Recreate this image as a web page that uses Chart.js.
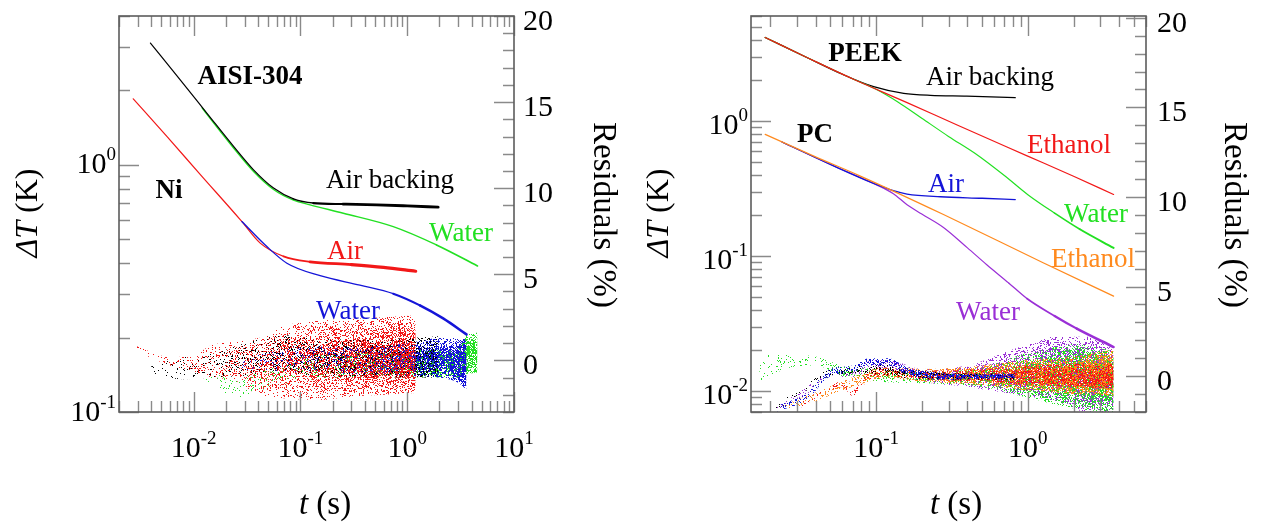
<!DOCTYPE html>
<html>
<head>
<meta charset="utf-8">
<title>Transient temperature rise and residuals</title>
<script src="https://cdn.jsdelivr.net/npm/chart.js@4.4.1/dist/chart.umd.min.js"></script>
<style>
  html, body { margin: 0; padding: 0; background: #ffffff; }
  #wrap { position: relative; width: 1263px; height: 527px; overflow: hidden; }
  #wrap canvas { position: absolute; top: 0; }
  #metals { left: 0; }
  #polymers { left: 631px; }
</style>
</head>
<body>
<div id="wrap">
  <canvas id="metals" width="631" height="527"></canvas>
  <canvas id="polymers" width="632" height="527"></canvas>
</div>
<script>
// ---------- left panel: AISI-304 and Ni (t in s, dT in K) ----------
const aisiAirT = [0.00394, 0.00752, 0.01334, 0.02366, 0.0364, 0.056, 0.0861, 0.132, 0.25, 0.518, 1.0, 1.95];
const aisiAirV = [3.11, 2.20, 1.616, 1.187, 0.954, 0.805, 0.728, 0.700, 0.694, 0.689, 0.682, 0.674];
const aisiWaterT = [0.012, 0.01334, 0.02366, 0.0364, 0.056, 0.0861, 0.123, 0.252, 0.74, 1.88, 4.55];
const aisiWaterV = [1.70, 1.60, 1.17, 0.94, 0.795, 0.72, 0.689, 0.637, 0.562, 0.474, 0.39];
const niAirT = [0.00272, 0.00564, 0.01156, 0.0273, 0.042, 0.0695, 0.123, 0.3, 0.6, 1.2];
const niAirV = [1.85, 1.30, 0.913, 0.60, 0.482, 0.426, 0.405, 0.395, 0.385, 0.371];
const niWaterT = [0.0283, 0.0485, 0.0747, 0.153, 0.361, 0.74, 1.315, 2.17, 3.59];
const niWaterV = [0.59, 0.467, 0.400, 0.356, 0.326, 0.301, 0.270, 0.239, 0.206];

// residual envelopes (%), upper and lower edge of each cloud
const niAirResT = [0.0027, 0.006, 0.01, 0.015, 0.025, 0.04, 0.07, 0.15, 0.3, 0.6, 1.2];
const niAirResHi = [0.9, 0.2, 0.3, 0.9, 1.1, 1.3, 2.0, 2.3, 2.4, 2.5, 2.6];
const niAirResLo = [0.6, -0.3, -0.7, -1.0, -1.2, -2.0, -2.2, -2.3, -2.1, -2.0, -1.9];
const aisiAirResT = [0.004, 0.008, 0.015, 0.03, 0.06, 0.12, 0.4, 1.0, 1.95];
const aisiAirResHi = [-0.2, 0.2, 0.4, 1.0, 1.5, 1.3, 1.2, 1.3, 1.4];
const aisiAirResLo = [-0.9, -1.1, -1.0, -0.9, -0.6, -0.9, -1.0, -1.0, -1.0];
const niWaterResT = [0.028, 0.05, 0.1, 0.3, 1.0, 2.0, 3.0, 3.59];
const niWaterResHi = [0.0, 0.9, 0.8, 0.8, 1.0, 1.3, 1.3, 1.3];
const niWaterResLo = [-0.7, -0.6, -0.7, -0.8, -0.9, -1.0, -1.3, -1.7];
const aisiWaterResT = [0.012, 0.025, 0.05, 0.1, 0.3, 1.0, 3.0, 3.6, 4.55];
const aisiWaterResHi = [-0.6, -1.0, -0.3, 0.2, 0.5, 0.6, 0.7, 1.6, 1.6];
const aisiWaterResLo = [-1.0, -2.2, -1.6, -1.2, -1.0, -1.0, -1.0, -0.8, -0.7];

// ---------- right panel: PEEK and PC ----------
const peekEthT = [0.0186, 0.035, 0.071, 0.16, 0.342, 0.98, 2.0, 3.67];
const peekEthV = [4.16, 2.96, 2.04, 1.37, 0.935, 0.555, 0.39, 0.286];
const peekAirT = [0.0186, 0.035, 0.06, 0.0964, 0.152, 0.228, 0.396, 0.826];
const peekAirV = [4.16, 2.96, 2.22, 1.80, 1.606, 1.55, 1.53, 1.49];
const peekWaterT = [0.0186, 0.035, 0.071, 0.1, 0.14, 0.2, 0.3, 0.45, 0.7, 1.0, 1.5, 2.2, 3.67];
const peekWaterV = [4.16, 2.96, 2.04, 1.72, 1.38, 1.05, 0.77, 0.575, 0.395, 0.285, 0.208, 0.158, 0.115];
const pcEthT = [0.0186, 0.0389, 0.0788, 0.278, 1.27, 3.67];
const pcEthV = [0.797, 0.55, 0.391, 0.203, 0.0889, 0.0505];
const pcAirT = [0.024, 0.05, 0.0964, 0.13, 0.16, 0.265, 0.5, 0.826];
const pcAirV = [0.70, 0.477, 0.345, 0.305, 0.288, 0.275, 0.268, 0.262];
const pcWaterT = [0.024, 0.05, 0.1, 0.13, 0.16, 0.2, 0.278, 0.4, 0.536, 0.75, 0.985, 1.5, 2.1, 3.67];
const pcWaterV = [0.70, 0.477, 0.338, 0.29, 0.24, 0.205, 0.163, 0.115, 0.0863, 0.063, 0.0485, 0.036, 0.029, 0.0212];

const peekAirResT = [0.021, 0.03, 0.05, 0.07, 0.1, 0.2, 0.4, 0.826];
const peekAirResHi = [-1.7, -0.8, 0.4, 0.5, 0.7, 0.3, 0.15, 0.15];
const peekAirResLo = [-2.0, -1.2, 0.0, 0.1, 0.1, -0.2, -0.2, -0.2];
const pcAirResT = [0.022, 0.035, 0.05, 0.07, 0.09, 0.12, 0.16, 0.25, 0.5, 0.826];
const pcAirResHi = [-1.7, -0.9, 0.4, 0.6, 1.0, 1.0, 0.5, 0.2, 0.1, 0.1];
const pcAirResLo = [-2.0, -1.3, 0.0, 0.2, 0.6, 0.6, 0.1, -0.2, -0.15, -0.1];
const peekEthResT = [0.03, 0.045, 0.06, 0.07, 0.09, 0.12, 0.2, 0.5, 1.0, 2.0, 3.67];
const peekEthResHi = [-1.6, -0.7, -0.3, -0.8, 0.3, 0.5, 0.3, 0.4, 0.6, 0.7, 0.7];
const peekEthResLo = [-1.9, -1.0, -0.6, -1.1, -0.2, 0.0, -0.2, -0.3, -0.5, -0.6, -0.7];
const pcEthResT = [0.025, 0.04, 0.06, 0.09, 0.12, 0.2, 0.5, 1.0, 2.0, 3.67];
const pcEthResHi = [-1.6, -0.9, -0.3, 0.3, 0.5, 0.4, 0.6, 0.9, 1.1, 1.5];
const pcEthResLo = [-2.0, -1.4, -0.8, -0.3, -0.1, -0.3, -0.5, -0.8, -1.0, -1.1];
const peekWaterResT = [0.017, 0.025, 0.04, 0.06, 0.1, 0.2, 0.5, 1.0, 2.0, 3.67];
const peekWaterResHi = [1.2, 1.2, 1.1, 0.6, 0.4, 0.2, 0.5, 1.3, 1.8, 1.4];
const peekWaterResLo = [-0.5, 0.4, 0.6, 0.0, -0.3, -0.4, -0.6, -1.2, -1.8, -2.0];
const pcWaterResT = [0.022, 0.035, 0.05, 0.07, 0.09, 0.12, 0.2, 0.4, 0.8, 1.5, 2.5, 3.67];
const pcWaterResHi = [-1.7, -0.6, 0.3, 0.3, 0.9, 0.9, 0.4, 0.6, 1.5, 2.2, 2.2, 1.5];
const pcWaterResLo = [-2.0, -1.0, 0.0, -0.3, 0.4, 0.3, -0.3, -0.6, -1.0, -1.4, -2.0, -2.0];

// tick labels
const metalsXExp = [-2, -1, 0, 1];
const metalsYExp = [-1, 0];
const polymersXExp = [-1, 0];
const polymersYExp = [-2, -1, 0];
const residualTicks = [0, 5, 10, 15, 20];

const FAMILY = '"Liberation Serif", "Times New Roman", serif';
const COLORS = {
  black: '#000000', green: '#22e022', red: '#f21818',
  blue: '#1414d8', orange: '#ff8a1e', purple: '#9a2fd6'
};

function points(t, v) {
  return t.map((x, i) => ({ x, y: v[i] }));
}

function logSteps(min, max) {
  const out = [];
  for (let d = Math.floor(Math.log10(min)); d <= Math.ceil(Math.log10(max)); d++) {
    for (let k = 1; k <= 9; k++) {
      const v = k * Math.pow(10, d);
      if (v >= min * 0.9999 && v <= max * 1.0001) out.push({ v, major: k === 1 });
    }
  }
  return out;
}

// fixed integer hash used only for the dot texture of the residual clouds
function hash01(x, y, s) {
  let h = Math.imul(x + 17, 374761393) ^ Math.imul(y + 31, 668265263) ^ Math.imul(s + 7, 1442695041);
  h = Math.imul(h ^ (h >>> 13), 1274126177);
  h ^= h >>> 16;
  return (h >>> 0) / 4294967296;
}

// dot texture: denser later in time and towards the middle of the cloud
function cloudTexture(chart, b, slot) {
  const a = chart.chartArea;
  const sc = chart.scales || {};
  const sx = sc.x, sr = sc.yR;
  if (!a || !sx || !sr || !(a.right > a.left)) return 'rgba(0,0,0,0)';
  if (b.texture) return b.texture;
  const px = b.t.map(v => sx.getPixelForValue(v));
  const pHi = b.hi.map(v => sr.getPixelForValue(v));
  const pLo = b.lo.map(v => sr.getPixelForValue(v));
  const x0 = px[0], x1 = px[px.length - 1];
  const w = chart.width, h = chart.height;
  const c = document.createElement('canvas');
  c.width = w; c.height = h;
  const g = c.getContext('2d');
  g.fillStyle = b.color;
  let seg = 0;
  for (let x = Math.max(0, Math.floor(x0)); x <= Math.min(w - 1, Math.ceil(x1)); x++) {
    while (seg < px.length - 2 && x > px[seg + 1]) seg++;
    const span = px[seg + 1] - px[seg];
    const k = span > 0 ? Math.max(0, Math.min(1, (x - px[seg]) / span)) : 0;
    const top = pHi[seg] + (pHi[seg + 1] - pHi[seg]) * k - 3;
    const bot = pLo[seg] + (pLo[seg + 1] - pLo[seg]) * k + 3;
    const mid = (top + bot) / 2, half = Math.max(2, (bot - top) / 2);
    const f = Math.max(0, Math.min(1, (x - x0) / (x1 - x0)));
    const d = b.dMin + (b.dMax - b.dMin) * Math.pow(f, b.pow);
    for (let y = Math.max(0, Math.floor(top)); y <= Math.min(h - 1, Math.ceil(bot)); y++) {
      const u = Math.min(1, Math.abs(y - mid) / half);
      if (hash01(x, y, slot) < d * (1 - 0.8 * u * u)) g.fillRect(x, y, 1, 1);
    }
  }
  b.texture = g.createPattern(c, 'no-repeat');
  return b.texture;
}

function powerLabel(ctx, exp, x, y, align) {
  ctx.font = '30px ' + FAMILY;
  const w1 = ctx.measureText('10').width;
  ctx.font = '19px ' + FAMILY;
  const e = String(exp);
  const w2 = ctx.measureText(e).width;
  const total = w1 + w2;
  const x0 = align === 'center' ? x - total / 2 : (align === 'right' ? x - total : x);
  ctx.textAlign = 'left';
  ctx.textBaseline = 'alphabetic';
  ctx.font = '30px ' + FAMILY;
  ctx.fillText('10', x0, y);
  ctx.font = '19px ' + FAMILY;
  ctx.fillText(e, x0 + w1, y - 13);
}

function richText(ctx, parts, x, y, angle) {
  ctx.save();
  ctx.translate(x, y);
  ctx.rotate(angle);
  ctx.textAlign = 'left';
  ctx.textBaseline = 'alphabetic';
  let total = 0;
  parts.forEach(p => { ctx.font = p.font; total += ctx.measureText(p.text).width; });
  let cx = -total / 2;
  parts.forEach(p => {
    ctx.font = p.font;
    ctx.fillText(p.text, cx, 0);
    cx += ctx.measureText(p.text).width;
  });
  ctx.restore();
}

function frameLayer(panel) {
  return {
    id: 'frame_' + panel.id,
    afterDraw(chart) {
      const ctx = chart.ctx;
      const a = chart.chartArea;
      const sx = chart.scales.x, sy = chart.scales.y, sr = chart.scales.yR;
      ctx.save();

      // inward ticks on all four sides
      ctx.strokeStyle = '#8a8a8a';
      ctx.lineWidth = 1.4;
      ctx.beginPath();
      logSteps(panel.xMin, panel.xMax).forEach(s => {
        const px = Math.round(sx.getPixelForValue(s.v)) + 0.5;
        const len = s.major ? 20 : 11;
        ctx.moveTo(px, a.bottom); ctx.lineTo(px, a.bottom - len);
        ctx.moveTo(px, a.top); ctx.lineTo(px, a.top + len);
      });
      logSteps(panel.yMin, panel.yMax).forEach(s => {
        const py = Math.round(sy.getPixelForValue(s.v)) + 0.5;
        ctx.moveTo(a.left, py); ctx.lineTo(a.left + (s.major ? 20 : 11), py);
      });
      for (let r = Math.ceil(panel.rMin); r <= Math.floor(panel.rMax); r++) {
        const py = Math.round(sr.getPixelForValue(r)) + 0.5;
        ctx.moveTo(a.right, py); ctx.lineTo(a.right - (r % 5 === 0 ? 20 : 11), py);
      }
      ctx.stroke();

      ctx.strokeStyle = '#5c5c5c';
      ctx.lineWidth = 1.6;
      ctx.strokeRect(a.left, a.top, a.right - a.left, a.bottom - a.top);

      // tick labels
      ctx.fillStyle = '#000000';
      panel.xExp.forEach(e => powerLabel(ctx, e, sx.getPixelForValue(Math.pow(10, e)), 457, 'center'));
      panel.yExp.forEach(e => powerLabel(ctx, e, a.left - panel.yLabelGap,
        sy.getPixelForValue(Math.pow(10, e)) + panel.yLabelDrop, 'right'));
      ctx.font = '30px ' + FAMILY;
      ctx.textAlign = 'left';
      residualTicks.forEach(r => ctx.fillText(String(r), a.right + panel.rLabelGap, sr.getPixelForValue(r) + 14));

      // axis titles
      richText(ctx, [
        { text: 't', font: 'italic 33px ' + FAMILY },
        { text: ' (s)', font: '33px ' + FAMILY }
      ], 325, 514, 0);
      richText(ctx, [
        { text: 'ΔT', font: 'italic 32px ' + FAMILY },
        { text: ' (K)', font: '32px ' + FAMILY }
      ], 37, 213, -Math.PI / 2);
      richText(ctx, [{ text: 'Residuals (%)', font: '33px ' + FAMILY }], 594, 215, Math.PI / 2);

      // in-plot notes
      ctx.textAlign = 'center';
      panel.notes.forEach(n => {
        ctx.font = (n.bold ? 'bold ' : '') + '27px ' + FAMILY;
        ctx.fillStyle = n.color;
        ctx.fillText(n.text, n.x, n.y);
      });
      ctx.restore();
    }
  };
}

// line width grows from `width` to `thick` over half a decade after thickFrom
function rampWidth(c) {
  return s => {
    const t = s.p0.parsed.x;
    const f = Math.min(1, Math.max(0, Math.log10(t / c.thickFrom) / 0.5));
    return c.width + (c.thick - c.width) * f;
  };
}

function buildPanel(canvasId, panel) {
  const datasets = [];
  panel.curves.forEach(c => {
    datasets.push({
      data: points(c.t, c.v),
      yAxisID: 'y',
      borderColor: c.color,
      borderWidth: c.width,
      borderCapStyle: 'round',
      borderJoinStyle: 'round',
      pointRadius: 0,
      cubicInterpolationMode: 'monotone',
      fill: false,
      segment: { borderWidth: rampWidth(c) }
    });
  });
  panel.bands.forEach((b, k) => {
    datasets.push({
      data: points(b.t, b.lo), yAxisID: 'yR', borderWidth: 0, borderColor: 'rgba(0,0,0,0)',
      pointRadius: 0, cubicInterpolationMode: 'monotone', fill: false
    });
    datasets.push({
      data: points(b.t, b.hi), yAxisID: 'yR', borderWidth: 0, borderColor: 'rgba(0,0,0,0)',
      pointRadius: 0, cubicInterpolationMode: 'monotone', fill: '-1',
      backgroundColor: ctx => cloudTexture(ctx.chart, b, k + panel.slotBase)
    });
  });

  return new Chart(document.getElementById(canvasId), {
    type: 'line',
    data: { datasets },
    options: {
      responsive: false,
      animation: false,
      events: [],
      layout: { padding: panel.padding },
      plugins: { legend: { display: false }, tooltip: { enabled: false } },
      scales: {
        x: { type: 'logarithmic', min: panel.xMin, max: panel.xMax, display: false },
        y: { type: 'logarithmic', min: panel.yMin, max: panel.yMax, display: false },
        yR: { type: 'linear', position: 'right', min: panel.rMin, max: panel.rMax, display: false }
      }
    },
    plugins: [frameLayer(panel)]
  });
}

buildPanel('metals', {
  id: 'metals',
  slotBase: 0,
  padding: { left: 119, right: 117, top: 16, bottom: 115 },
  xMin: 0.002, xMax: 10, yMin: 0.1, yMax: 4, rMin: -3, rMax: 20,
  xExp: metalsXExp, yExp: metalsYExp,
  yLabelGap: 3, yLabelDrop: 8.5, rLabelGap: 9,
  curves: [
    { t: aisiAirT, v: aisiAirV, color: COLORS.black, width: 1.2, thickFrom: 0.07, thick: 2.8 },
    { t: aisiWaterT, v: aisiWaterV, color: COLORS.green, width: 1.4, thickFrom: 1.0, thick: 2 },
    { t: niWaterT, v: niWaterV, color: COLORS.blue, width: 1.3, thickFrom: 0.4, thick: 2.6 },
    { t: niAirT, v: niAirV, color: COLORS.red, width: 1.2, thickFrom: 0.05, thick: 3.2 }
  ],
  bands: [
    { t: niAirResT, hi: niAirResHi, lo: niAirResLo, color: COLORS.red, dMin: 0.06, dMax: 0.6, pow: 1.3 },
    { t: niWaterResT, hi: niWaterResHi, lo: niWaterResLo, color: COLORS.blue, dMin: 0.08, dMax: 0.8, pow: 2 },
    { t: aisiAirResT, hi: aisiAirResHi, lo: aisiAirResLo, color: COLORS.black, dMin: 0.06, dMax: 0.45, pow: 1.3 },
    { t: aisiWaterResT, hi: aisiWaterResHi, lo: aisiWaterResLo, color: COLORS.green, dMin: 0.07, dMax: 0.8, pow: 3 }
  ],
  notes: [
    { text: 'AISI-304', x: 250, y: 84, bold: true, color: '#000000' },
    { text: 'Ni', x: 169, y: 198, bold: true, color: '#000000' },
    { text: 'Air backing', x: 390, y: 188, color: COLORS.black },
    { text: 'Water', x: 461, y: 241, color: COLORS.green },
    { text: 'Air', x: 345, y: 259, color: COLORS.red },
    { text: 'Water', x: 348, y: 319, color: COLORS.blue }
  ]
});

buildPanel('polymers', {
  id: 'polymers',
  slotBase: 10,
  padding: { left: 120, right: 117, top: 16, bottom: 115 },
  xMin: 0.015, xMax: 6, yMin: 0.007, yMax: 6, rMin: -2, rMax: 20.1,
  xExp: polymersXExp, yExp: polymersYExp,
  yLabelGap: 3, yLabelDrop: 13, rLabelGap: 11,
  curves: [
    { t: peekEthT, v: peekEthV, color: COLORS.red, width: 1.2, thickFrom: 10, thick: 1.2 },
    { t: peekWaterT, v: peekWaterV, color: COLORS.green, width: 1.2, thickFrom: 1.0, thick: 2.4 },
    { t: peekAirT, v: peekAirV, color: COLORS.black, width: 1.2, thickFrom: 10, thick: 1.2 },
    { t: pcEthT, v: pcEthV, color: COLORS.orange, width: 1.2, thickFrom: 10, thick: 1.2 },
    { t: pcAirT, v: pcAirV, color: COLORS.blue, width: 1.3, thickFrom: 10, thick: 1.3 },
    { t: pcWaterT, v: pcWaterV, color: COLORS.purple, width: 1.2, thickFrom: 0.7, thick: 2.6 }
  ],
  bands: [
    { t: pcAirResT, hi: pcAirResHi, lo: pcAirResLo, color: COLORS.blue, dMin: 0.12, dMax: 0.7, pow: 1 },
    { t: peekAirResT, hi: peekAirResHi, lo: peekAirResLo, color: COLORS.black, dMin: 0.08, dMax: 0.3, pow: 1 },
    { t: peekEthResT, hi: peekEthResHi, lo: peekEthResLo, color: COLORS.red, dMin: 0.09, dMax: 0.6, pow: 1 },
    { t: pcEthResT, hi: pcEthResHi, lo: pcEthResLo, color: COLORS.orange, dMin: 0.09, dMax: 0.75, pow: 1 },
    { t: peekWaterResT, hi: peekWaterResHi, lo: peekWaterResLo, color: COLORS.green, dMin: 0.07, dMax: 0.6, pow: 1.5 },
    { t: pcWaterResT, hi: pcWaterResHi, lo: pcWaterResLo, color: COLORS.purple, dMin: 0.07, dMax: 0.6, pow: 1.5 }
  ],
  notes: [
    { text: 'PEEK', x: 234, y: 61, bold: true, color: '#000000' },
    { text: 'PC', x: 184, y: 142, bold: true, color: '#000000' },
    { text: 'Air backing', x: 359, y: 85, color: COLORS.black },
    { text: 'Ethanol', x: 438, y: 153, color: COLORS.red },
    { text: 'Air', x: 315, y: 192, color: COLORS.blue },
    { text: 'Water', x: 465, y: 222, color: COLORS.green },
    { text: 'Ethanol', x: 462, y: 267, color: COLORS.orange },
    { text: 'Water', x: 357, y: 320, color: COLORS.purple }
  ]
});
</script>
</body>
</html>
